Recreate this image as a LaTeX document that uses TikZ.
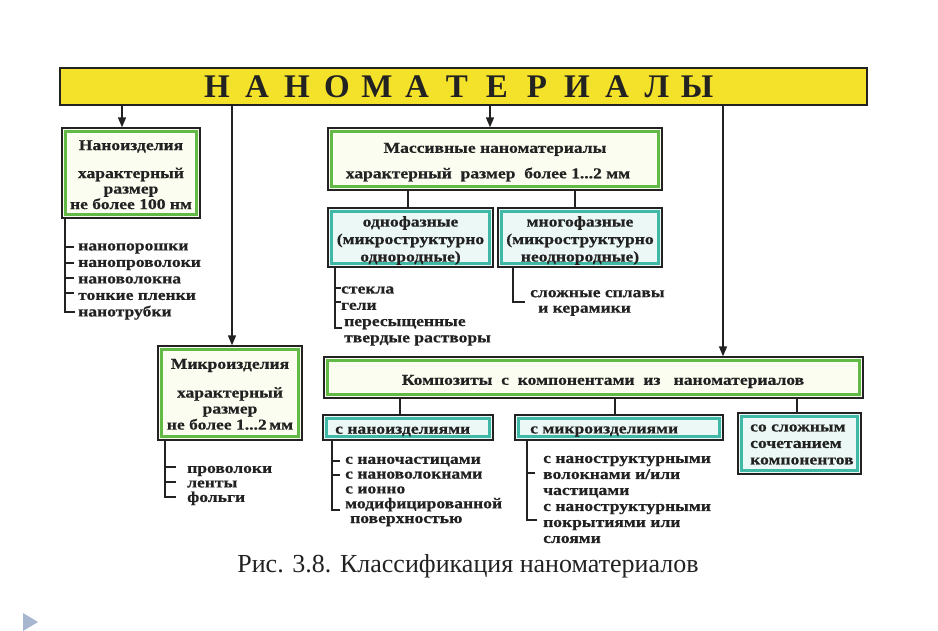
\documentclass[tikz,border=0pt]{standalone}
\usepackage{fontspec}
\setmainfont{Liberation Serif}
\newfontfamily\bfam[FakeStretch=1.17, FakeBold=0.6]{Liberation Serif}
\usetikzlibrary{arrows.meta}
\definecolor{ink}{HTML}{222222}
\definecolor{baryellow}{HTML}{F4E22A}
\definecolor{gline}{HTML}{62B946}
\definecolor{gfill}{HTML}{FBFDF0}
\definecolor{tline}{HTML}{3FB8A6}
\definecolor{tfill}{HTML}{EBF8F5}
\definecolor{tri}{HTML}{A6B7CF}
\tikzset{
  gbox/.style={draw=ink, line width=1.3pt, fill=gfill, inner sep=0pt,
    path picture={\draw[gline, line width=2.6pt]
      ([shift={(3.3pt,-3.3pt)}]path picture bounding box.north west) rectangle
      ([shift={(-3.3pt,3.3pt)}]path picture bounding box.south east);}},
  tbox/.style={draw=ink, line width=1.3pt, fill=tfill, inner sep=0pt,
    path picture={\draw[tline, line width=2.6pt]
      ([shift={(3.3pt,-3.3pt)}]path picture bounding box.north west) rectangle
      ([shift={(-3.3pt,3.3pt)}]path picture bounding box.south east);}},
  txt/.style={inner sep=0pt, align=left, anchor=west, text=ink, yshift=-3.5pt,
    font=\bfam\bfseries\fontsize{15}{16}\selectfont},
  ctxt/.style={txt, align=center, anchor=center},
  ln/.style={draw=ink, line width=1.3pt},
  arr/.style={draw=ink, line width=1.4pt, -{Triangle[length=10pt,width=8pt]}},
  ttl/.style={inner sep=0pt, text=ink, font=\bfseries\fontsize{33}{33}\selectfont}
}
\begin{document}
\begin{tikzpicture}[x=1pt,y=-1pt]
\useasboundingbox (0,0) rectangle (938,631);
\fill[white] (0,0) rectangle (938,631);
% top bar
\node[draw=ink, line width=1.3pt, fill=baryellow, minimum width=807pt, minimum height=37pt, inner sep=0pt] (bar) at (463.5,86.5) {};
\foreach \l [count=\i from 0] in {Н,А,Н,О,М,А,Т,Е,Р,И,А,Л,Ы}
  \node[ttl] (t\i) at (217+40*\i,87) {\l};
% boxes
\node[gbox, minimum width=138pt, minimum height=90pt] (nano) at (131,173) {};
\node[ctxt] (nanoA) at (131,143) {Наноизделия};
\node[ctxt, font=\bfam\bfseries\fontsize{15}{15.5}\selectfont] (nanoB) at (131,185) {характерный\\размер\\не более 100 нм};
\node[gbox, minimum width=334pt, minimum height=62pt] (massive) at (495,159) {};
\node[ctxt] (massiveA) at (495,146) {Массивные наноматериалы};
\node[ctxt] (massiveB) at (488,171) {характерный\ \ размер\ \ более 1...2 мм};
\node[tbox, minimum width=165pt, minimum height=59pt] (odno) at (410.5,237.5) {};
\node[ctxt, font=\bfam\bfseries\fontsize{15}{17.5}\selectfont] (odnoT) at (410.5,237)
  {однофазные\\(микроструктурно\\однородные)};
\node[tbox, minimum width=164pt, minimum height=59pt] (mnogo) at (580,237.5) {};
\node[ctxt, font=\bfam\bfseries\fontsize{15}{17.5}\selectfont] (mnogoT) at (580,237)
  {многофазные\\(микроструктурно\\неоднородные)};
\node[gbox, minimum width=144pt, minimum height=94pt] (micro) at (230,393) {};
\node[ctxt] (microA) at (230,362) {Микроизделия};
\node[ctxt, font=\bfam\bfseries\fontsize{15}{16}\selectfont] (microB) at (230,405) {характерный\\размер\\не более 1...2\,мм};
\node[gbox, minimum width=539pt, minimum height=41pt] (comp) at (593.5,377.5) {};
\node[ctxt] (compT) at (603,378) {Композиты\ \ с\ \ компонентами\ \ из\ \ \ наноматериалов};
\node[tbox, minimum width=170pt, minimum height=25pt] (snano) at (408,427.5) {};
\node[txt] (snanoT) at (335,428) {с наноизделиями};
\node[tbox, minimum width=208pt, minimum height=25pt] (smicro) at (619,427.5) {};
\node[txt] (smicroT) at (530,428) {с микроизделиями};
\node[tbox, minimum width=123pt, minimum height=61pt] (slozh) at (799.5,443.5) {};
\node[txt, font=\bfam\bfseries\fontsize{15}{16.5}\selectfont] (slozhT) at (750,441) {со сложным\\сочетанием\\компонентов};
% arrows from bar
\coordinate (c1) at (122,0);
\coordinate (c2) at (232,0);
\coordinate (c3) at (490,0);
\coordinate (c4) at (723,0);
\draw[arr] (c1 |- bar.south) -- (c1 |- nano.north);
\draw[arr] (c2 |- bar.south) -- (c2 |- micro.north);
\draw[arr] (c3 |- bar.south) -- (c3 |- massive.north);
\draw[arr] (c4 |- bar.south) -- (c4 |- comp.north);
% sub connectors
\coordinate (d1) at (408,0);
\coordinate (d2) at (575,0);
\draw[ln] (d1 |- massive.south) -- (d1 |- odno.north);
\draw[ln] (d2 |- massive.south) -- (d2 |- mnogo.north);
\coordinate (e1) at (400,0);
\coordinate (e2) at (615,0);
\coordinate (e3) at (797,0);
\draw[ln] (e1 |- comp.south) -- (e1 |- snano.north);
\draw[ln] (e2 |- comp.south) -- (e2 |- smicro.north);
\draw[ln] (e3 |- comp.south) -- (e3 |- slozh.north);
% lists
\node[txt, font=\bfam\bfseries\fontsize{15}{16.5}\selectfont] (nanoL) at (78,278)
  {нанопорошки\\нанопроволоки\\нановолокна\\тонкие пленки\\нанотрубки};
\draw[ln] (65,218) -- (65,312) -- (75,312);
\foreach \yy in {247,263,278,293} \draw[ln] (65,\yy) -- (74,\yy);
\node[txt, font=\bfam\bfseries\fontsize{15}{16.3}\selectfont] (odnoL) at (341,312.5)
  {стекла\\гели\\\hspace{3pt}пересыщенные\\\hspace{3pt}твердые растворы};
\draw[ln] (335,267) -- (335,328) -- (342,328);
\foreach \yy in {288,302} \draw[ln] (335,\yy) -- (341,\yy);
\node[txt, font=\bfam\bfseries\fontsize{15}{15.5}\selectfont] (mnogoL) at (530,299.5) {сложные сплавы\\\hspace{8pt}и керамики};
\draw[ln] (513,267) -- (513,302) -- (525,302);
\node[txt, font=\bfam\bfseries\fontsize{15}{14.5}\selectfont] (microL) at (187,482)
  {проволоки\\ленты\\фольги};
\draw[ln] (165,440) -- (165,497) -- (176,497);
\foreach \yy in {467,482} \draw[ln] (165,\yy) -- (176,\yy);
\node[txt, font=\bfam\bfseries\fontsize{15}{14.8}\selectfont] (snanoL) at (345,488)
  {с наночастицами\\с нановолокнами\\с ионно\\модифицированной\\\hspace{5pt}поверхностью};
\draw[ln] (332,440) -- (332,510) -- (340,510);
\foreach \yy in {461,475} \draw[ln] (332,\yy) -- (340,\yy);
\node[txt, font=\bfam\bfseries\fontsize{15}{16}\selectfont] (smicroL) at (543,496)
  {с наноструктурными\\волокнами и/или\\частицами\\с наноструктурными\\покрытиями или\\слоями};
\draw[ln] (527,440) -- (527,520) -- (537,520);
\draw[ln] (527,473) -- (535,473);
% caption
\node[inner sep=0pt, text=ink, font=\fontsize{26}{26}\selectfont] (cap) at (468,566)
  {Рис. 3.8. Классификация наноматериалов};
% corner triangle
\fill[tri] (23,613) -- (38,622) -- (23,631) -- cycle;
\end{tikzpicture}
\end{document}
